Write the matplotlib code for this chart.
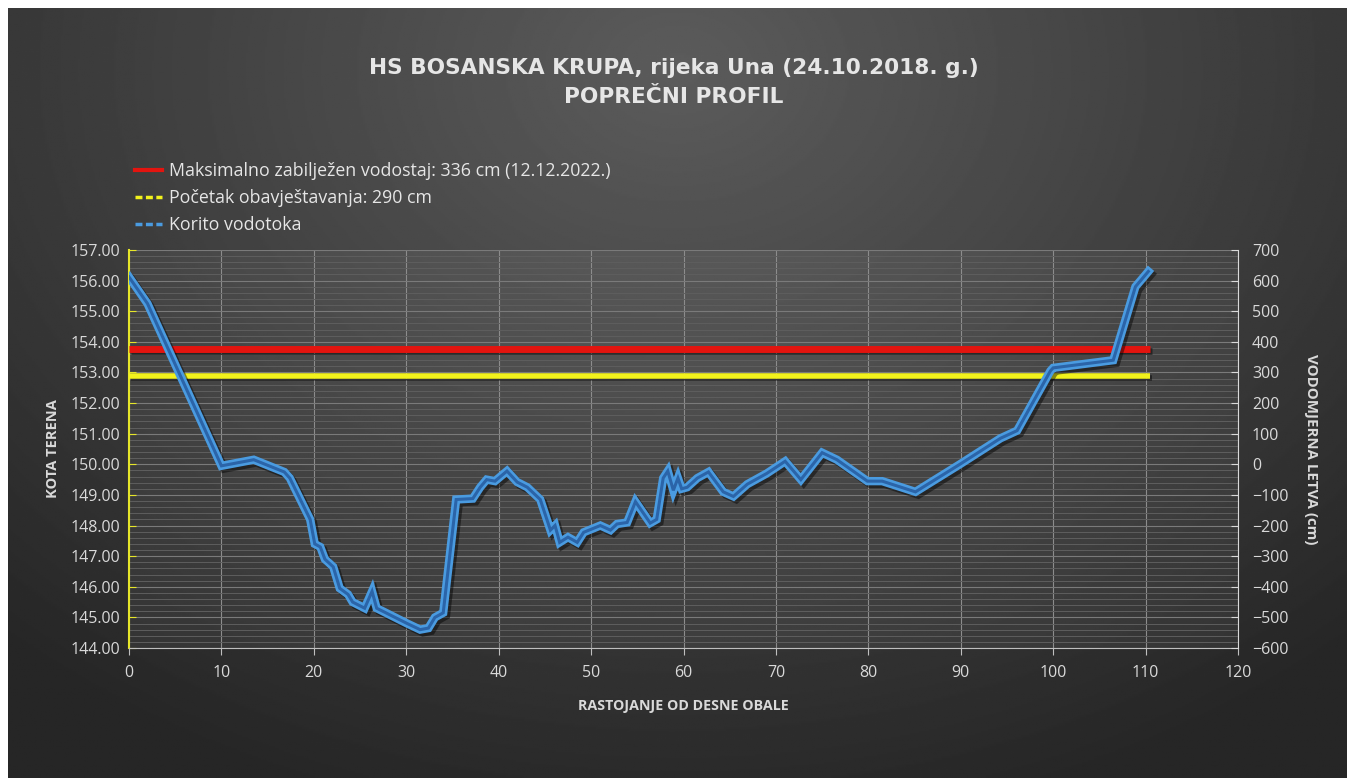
import matplotlib
matplotlib.use("Agg")
import matplotlib.pyplot as plt
import matplotlib.patheffects as pe
import numpy as np
from matplotlib.lines import Line2D
from matplotlib.ticker import MultipleLocator, FormatStrFormatter

# cross-section profile
dist = [0.0, 2.0, 10.0, 13.5, 16.8, 17.4, 19.6, 20.1, 20.7, 21.2, 22.1, 22.8,
        23.7, 24.2, 25.5, 26.3, 26.8, 30.1, 31.5, 32.4, 33.1, 34.0, 35.4, 37.2,
        38.0, 38.7, 39.6, 40.9, 42.0, 43.1, 44.5, 45.6, 46.1, 46.6, 47.5, 48.5,
        49.2, 51.0, 52.1, 52.8, 53.9, 54.8, 56.4, 57.1, 57.8, 58.3, 58.9, 59.4,
        59.8, 60.4, 61.5, 62.7, 64.3, 65.4, 66.9, 69.0, 71.0, 72.7, 75.0, 76.6,
        79.9, 81.5, 85.1, 89.9, 94.3, 96.1, 99.7, 100.0, 106.5, 108.9, 110.3]
elev = [156.12, 155.25, 149.95, 150.15, 149.75, 149.55, 148.2, 147.4, 147.3,
        146.9, 146.65, 145.95, 145.75, 145.5, 145.3, 145.85, 145.3, 144.8, 144.6,
        144.65, 145.0, 145.15, 148.85, 148.88, 149.25, 149.5, 149.45, 149.78,
        149.42, 149.25, 148.85, 147.85, 148.0, 147.45, 147.62, 147.45, 147.78,
        148.0, 147.85, 148.05, 148.1, 148.78, 148.08, 148.2, 149.55, 149.78,
        149.15, 149.55, 149.2, 149.25, 149.55, 149.75, 149.1, 148.95, 149.35,
        149.7, 150.1, 149.5, 150.38, 150.15, 149.45, 149.45, 149.1, 150.0,
        150.85, 151.1, 153.05, 153.15, 153.4, 155.8, 156.3]

level_max = 153.77      # maksimalno zabilježen vodostaj
level_warn = 152.88     # početak obavještavanja
gauge_zero = 150.0      # 0 cm on the staff gauge

title_lines = ["HS BOSANSKA KRUPA, rijeka Una (24.10.2018. g.)", "POPREČNI PROFIL"]
legend_labels = ["Maksimalno zabilježen vodostaj: 336 cm (12.12.2022.)",
                 "Početak obavještavanja: 290 cm",
                 "Korito vodotoka"]

plt.rcParams["font.family"] = ["Open Sans", "DejaVu Sans"]
TXT = "#d9d9d9"

fig = plt.figure(figsize=(13.47, 7.78), dpi=100)
fig.patch.set_facecolor("white")

# dark radial background
bg = fig.add_axes([8 / 1347, 0, 1 - 8 / 1347, 1 - 8 / 778])
bg.set_axis_off()
yy, xx = np.mgrid[0:1:400j, 0:1:700j]
d = np.sqrt(((xx - 0.5) / 0.75) ** 2 + ((yy - 0.08) / 1.0) ** 2)
v = 0.36 - 0.21 * np.clip(d, 0, 1)
bg.imshow(v, cmap="gray", vmin=0, vmax=1, aspect="auto", extent=[0, 1, 1, 0])
bg.set_xlim(0, 1)
bg.set_ylim(1, 0)

ax = fig.add_axes([129 / 1347, 130 / 778, (1238 - 129) / 1347, (648 - 250) / 778])
ax.set_facecolor((1, 1, 1, 0.05))

ax.set_xlim(0, 120)
ax.set_ylim(144, 157)
ax.xaxis.set_major_locator(MultipleLocator(10))
ax.yaxis.set_major_locator(MultipleLocator(1))
ax.yaxis.set_minor_locator(MultipleLocator(0.2))
ax.yaxis.set_major_formatter(FormatStrFormatter("%.2f"))
ax.grid(axis="x", which="major", color="#8c8c8c", lw=0.8)
ax.grid(axis="y", which="major", color="#7a7a7a", lw=0.8)
ax.grid(axis="y", which="minor", color="#5e5e5e", lw=0.7)
ax.set_axisbelow(True)

for s in ["top", "right"]:
    ax.spines[s].set_visible(False)
ax.spines["left"].set_color("#e6e629")
ax.spines["left"].set_linewidth(1.5)
ax.spines["bottom"].set_color("#bfbfbf")
ax.tick_params(axis="y", which="major", colors="#e6e629", direction="in", length=5,
               labelcolor=TXT, labelsize=11.5, pad=6)
ax.tick_params(axis="y", which="minor", length=0)
ax.tick_params(axis="x", colors="#bfbfbf", direction="out", length=5,
               labelcolor=TXT, labelsize=11.5, pad=7)

ax.set_xlabel("RASTOJANJE OD DESNE OBALE", color=TXT, fontsize=10.3, fontweight="bold",
              labelpad=13)
ax.set_ylabel("KOTA TERENA", color=TXT, fontsize=10.5, fontweight="bold", labelpad=8)

# staff gauge axis
ax2 = ax.twinx()
ax2.set_ylim((144 - gauge_zero) * 100, (157 - gauge_zero) * 100)
ax2.yaxis.set_major_locator(MultipleLocator(100))
for s in ["top", "left", "bottom"]:
    ax2.spines[s].set_visible(False)
ax2.spines["right"].set_color("#d9d9d9")
ax2.tick_params(axis="y", colors="#d9d9d9", direction="in", length=5,
                labelcolor=TXT, labelsize=11.5, pad=10)
ax2.set_ylabel("VODOMJERNA LETVA (cm)", color=TXT, fontsize=10.8, fontweight="bold",
               rotation=-90, labelpad=21)

shadow = [pe.SimpleLineShadow(offset=(1.5, -1.5), shadow_color="black", alpha=0.45), pe.Normal()]
ax.hlines(level_max, dist[0], dist[-1] + 0.2, color="#e3140f", lw=5, zorder=3,
          path_effects=shadow)
ax.hlines(level_warn, dist[0], dist[-1] + 0.2, color="#f2f21c", lw=4, zorder=3,
          path_effects=shadow)
ax.plot(dist, elev, color="#4a9be0", lw=6, zorder=4, solid_joinstyle="miter",
        path_effects=[pe.SimpleLineShadow(offset=(2, -2), shadow_color="black", alpha=0.45),
                      pe.Normal()])
ax.plot(dist, elev, color="#2b64a8", lw=2.2, zorder=5, solid_joinstyle="miter")

handles = [Line2D([], [], color="#e3140f", lw=3),
           Line2D([], [], color="#f2f21c", lw=2.5, ls=(0, (2, 1))),
           Line2D([], [], color="#4a9be0", lw=2.5, ls=(0, (2, 1)))]
fig.legend(handles, legend_labels, loc="upper left",
           bbox_to_anchor=(119 / 1347, 1 - 146 / 778), frameon=False,
           fontsize=12.8, labelcolor="#e6e6e6", handlelength=1.5, handletextpad=0.4,
           labelspacing=0.52)

fig.text(0.5, 1 - 68 / 778, title_lines[0], ha="center", va="center", color="#e6e6e6",
         fontsize=15.6, fontweight="bold", family="DejaVu Sans")
fig.text(0.5, 1 - 97 / 778, title_lines[1], ha="center", va="center", color="#e6e6e6",
         fontsize=15.6, fontweight="bold", family="DejaVu Sans")

fig.savefig("out.png", dpi=100)
